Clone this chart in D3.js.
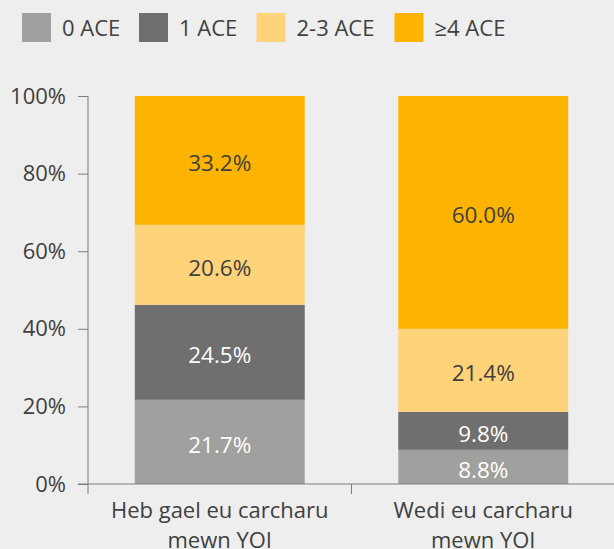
<!DOCTYPE html>
<html>
<head>
<meta charset="utf-8">
<script src="https://cdn.jsdelivr.net/npm/d3@7"></script>
<style>
  body { margin: 0; background: #eeeeee; }
  svg { display: block; font-family: "Open Sans", sans-serif; }
</style>
</head>
<body>
<div id="chart"></div>
<script>
const groups = ["Heb gael eu carcharu\nmewn YOI", "Wedi eu carcharu\nmewn YOI"];
const seriesNames = ["0 ACE", "1 ACE", "2-3 ACE", "≥4 ACE"];
const ace0 = [21.7, 8.8];
const ace1 = [24.5, 9.8];
const ace23 = [20.6, 21.4];
const ace4 = [33.2, 60.0];
const yTicks = [0, 20, 40, 60, 80, 100];

const colors = ["#a0a09e", "#6f6f6f", "#ffd37a", "#fdb400"];
const labelColors = ["#ffffff", "#ffffff", "#404040", "#404040"];

function init() {
    const w = 614, h = 549;

    const rows = groups.map((g, i) => ({
        group: g,
        "0 ACE": ace0[i],
        "1 ACE": ace1[i],
        "2-3 ACE": ace23[i],
        "≥4 ACE": ace4[i]
    }));
    const stacked = d3.stack().keys(seriesNames)(rows);

    const svg = d3.select("#chart")
        .append("svg")
        .attr("width", w)
        .attr("height", h);

    const x = d3.scaleBand()
        .domain(groups)
        .range([88, 615])
        .paddingInner(0.355)
        .paddingOuter(0.1775);

    const y = d3.scaleLinear()
        .domain([0, 100])
        .range([484, 96]);

    // bars
    svg.selectAll("g.series")
        .data(stacked)
        .enter()
        .append("g")
        .attr("class", "series")
        .attr("fill", (d, i) => colors[i])
        .selectAll("rect")
        .data(d => d)
        .enter()
        .append("rect")
        .attr("x", d => x(d.data.group))
        .attr("y", d => y(d[1]))
        .attr("width", x.bandwidth())
        .attr("height", d => y(d[0]) - y(d[1]));

    // value labels
    stacked.forEach((s, si) => {
        svg.selectAll(null)
            .data(s)
            .enter()
            .append("text")
            .text(d => (d[1] - d[0]).toFixed(1) + "%")
            .attr("x", d => x(d.data.group) + x.bandwidth() / 2)
            .attr("y", d => y((d[0] + d[1]) / 2) + 11)
            .attr("text-anchor", "middle")
            .attr("font-size", "22.5px")
            .attr("fill", labelColors[si]);
    });

    // y axis
    const yAxis = svg.append("g")
        .attr("transform", "translate(88,0)")
        .call(d3.axisLeft(y).tickValues(yTicks).tickSize(10).tickPadding(12)
            .tickFormat(d => d + "%"));
    yAxis.selectAll("text").attr("font-size", "22px").attr("fill", "#404040")
        .attr("font-family", "Open Sans, sans-serif");
    yAxis.selectAll("line").attr("stroke", "#7f7f7f");
    yAxis.select(".domain").attr("stroke", "#7f7f7f").attr("d", "M0,96V494");

    // x axis
    const bounds = [88, x(groups[1]) - x.step() * x.paddingInner() / 2, 615];
    svg.append("line")
        .attr("x1", 78).attr("x2", w)
        .attr("y1", y(0)).attr("y2", y(0))
        .attr("stroke", "#7f7f7f");
    svg.selectAll("line.xtick")
        .data(bounds.slice(1, 2))
        .enter()
        .append("line")
        .attr("class", "xtick")
        .attr("x1", d => d).attr("x2", d => d)
        .attr("y1", y(0)).attr("y2", y(0) + 10)
        .attr("stroke", "#7f7f7f");

    const xl = svg.selectAll("text.xlab")
        .data(groups)
        .enter()
        .append("text")
        .attr("class", "xlab")
        .attr("text-anchor", "middle")
        .attr("font-size", "22px")
        .attr("fill", "#404040");
    xl.selectAll("tspan")
        .data(d => d.split("\n").map(t => ({ t, g: d })))
        .enter()
        .append("tspan")
        .attr("x", d => x(d.g) + x.bandwidth() / 2)
        .attr("y", (d, i) => 518 + i * 30)
        .text(d => d.t);

    // legend
    const legendX = [22, 139, 256.5, 394.5];
    const lg = svg.selectAll("g.legend")
        .data(seriesNames)
        .enter()
        .append("g")
        .attr("class", "legend")
        .attr("transform", (d, i) => `translate(${legendX[i]},13)`);
    lg.append("rect")
        .attr("width", 29).attr("height", 29)
        .attr("fill", (d, i) => colors[i]);
    lg.append("text")
        .attr("x", 40).attr("y", 23)
        .attr("font-size", "22px")
        .attr("fill", "#404040")
        .text(d => d);
}

window.onload = init;
</script>
</body>
</html>
